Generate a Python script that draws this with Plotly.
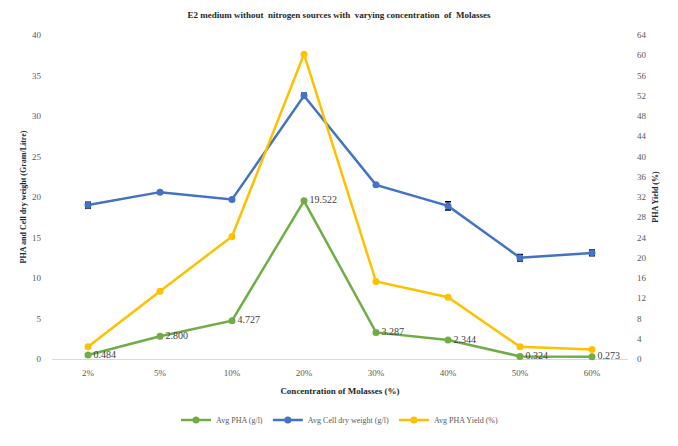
import plotly.graph_objects as go

# Molasses concentration levels
concentrations = ["2%", "5%", "10%", "20%", "30%", "40%", "50%", "60%"]

# Average PHA (g/l)
avg_pha = [0.484, 2.800, 4.727, 19.522, 3.287, 2.344, 0.324, 0.273]
avg_pha_err = [0.05, 0.05, 0.05, 0.2, 0.05, 0.05, 0.05, 0.05]

# Average cell dry weight (g/l)
avg_cdw = [19.0, 20.6, 19.7, 32.5, 21.5, 18.9, 12.5, 13.1]
avg_cdw_err = [0.35, 0.15, 0.15, 0.3, 0.15, 0.5, 0.4, 0.35]

# Average PHA yield (%)
avg_yield = [2.4, 13.4, 24.2, 60.2, 15.3, 12.2, 2.4, 1.9]
avg_yield_err = [0.3, 0.3, 0.2, 0.3, 0.2, 0.3, 0.3, 0.3]

GREEN = "#70AD47"
BLUE = "#4472C4"
YELLOW = "#FFC000"
SERIF = "Liberation Serif, Times New Roman, serif"

fig = go.Figure()

fig.add_trace(go.Scatter(
    x=concentrations, y=avg_pha, name="Avg PHA (g/l)",
    mode="lines+markers+text",
    line=dict(color=GREEN, width=2.5),
    marker=dict(color=GREEN, size=7),
    error_y=dict(type="data", array=avg_pha_err, color="black", thickness=1.5, width=2),
    text=[f"{v:.3f}" for v in avg_pha],
    textposition="middle right",
    textfont=dict(family=SERIF, size=10, color="#404040"),
    cliponaxis=False,
))

fig.add_trace(go.Scatter(
    x=concentrations, y=avg_cdw, name="Avg Cell dry weight (g/l)",
    mode="lines+markers",
    line=dict(color=BLUE, width=2.5),
    marker=dict(color=BLUE, size=7),
    error_y=dict(type="data", array=avg_cdw_err, color="black", thickness=1.5, width=3),
))

fig.add_trace(go.Scatter(
    x=concentrations, y=avg_yield, name="Avg PHA Yield (%)",
    mode="lines+markers", yaxis="y2",
    line=dict(color=YELLOW, width=2.5),
    marker=dict(color=YELLOW, size=7),
    error_y=dict(type="data", array=avg_yield_err, color="black", thickness=1.5, width=2),
))

fig.update_layout(
    width=678, height=446,
    margin=dict(l=52, r=50, t=35, b=76),
    paper_bgcolor="white", plot_bgcolor="white",
    font=dict(family=SERIF, size=9, color="#595959"),
    title=dict(
        text="<b>E2 medium without  nitrogen sources with  varying concentration  of  Molasses</b>",
        x=0.5, xanchor="center", y=0.967, yanchor="middle",
        font=dict(family=SERIF, size=9, color="#262626"),
    ),
    xaxis=dict(
        type="category", range=[-0.5, 7.5],
        showgrid=False, showline=False, zeroline=False,
        ticks="", ticklabelstandoff=7,
        tickfont=dict(size=9, color="#595959"),
        title=dict(text="<b>Concentration of Molasses (%)</b>",
                   font=dict(size=9, color="#262626"), standoff=10),
    ),
    yaxis=dict(
        range=[0, 40], dtick=5, showgrid=False,
        zeroline=True, zerolinecolor="#D9D9D9", zerolinewidth=1,
        showline=False, ticks="", ticklabelstandoff=10,
        tickfont=dict(size=9, color="#595959"),
        title=dict(text="<b>PHA and Cell dry weight (Gram/Litre)</b>",
                   font=dict(size=8, color="#262626"), standoff=4),
    ),
    yaxis2=dict(
        range=[0, 64], dtick=4, overlaying="y", side="right",
        showgrid=False, zeroline=False, showline=False, ticks="",
        ticklabelstandoff=8,
        tickfont=dict(size=9, color="#595959"),
        title=dict(text="<b>PHA Yield (%)</b>",
                   font=dict(size=8, color="#262626"), standoff=6),
    ),
    legend=dict(
        orientation="h", x=0.5, xanchor="center", y=-0.188, yanchor="middle",
        font=dict(family=SERIF, size=8, color="#595959"),
        itemwidth=30,
    ),
)

fig.write_html("out.html")
